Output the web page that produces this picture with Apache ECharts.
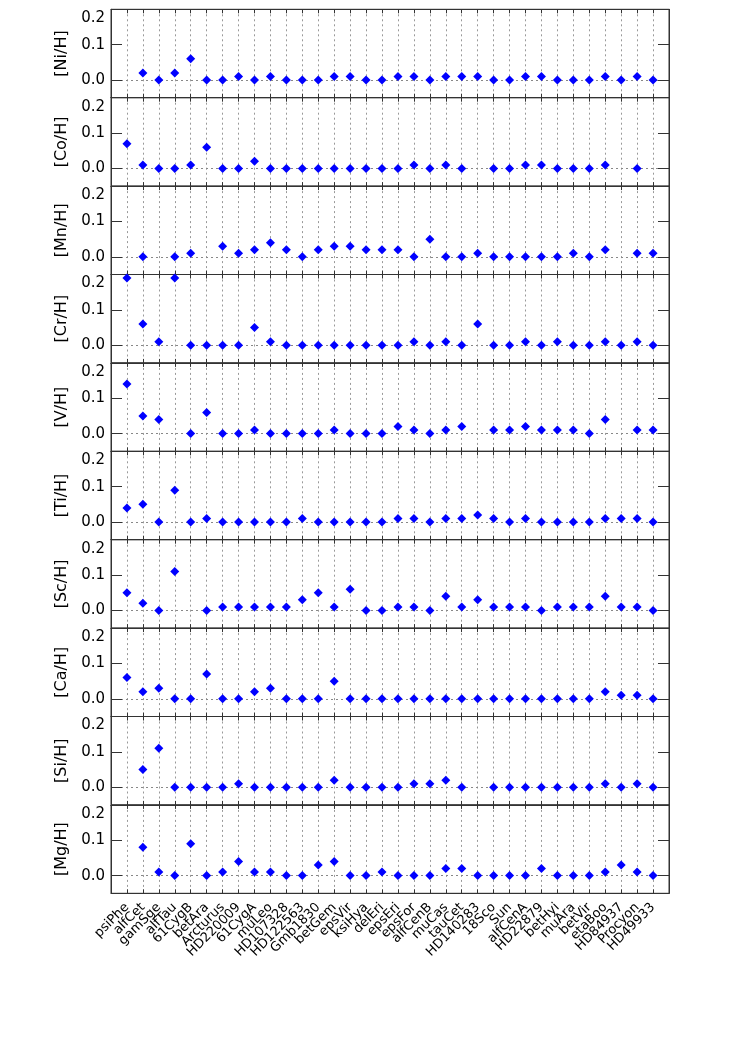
<!DOCTYPE html>
<html>
<head>
<meta charset="utf-8">
<script src="https://cdn.jsdelivr.net/npm/echarts@6/dist/echarts.min.js"></script>
<style>html,body{margin:0;padding:0;background:#fff;}#chart{width:743px;height:1052px;}</style>
</head>
<body>
<div id="chart"></div>
<script>
const categories = ['psiPhe','alfCet','gamSge','alfTau','61CygB','betAra','Arcturus','HD220009','61CygA','muLeo','HD107328','HD122563','Gmb1830','betGem','epsVir','ksiHya','delEri','epsEri','epsFor','alfCenB','muCas','tauCet','HD140283','18Sco','Sun','alfCenA','HD22879','betHyi','muAra','betVir','etaBoo','HD84937','Procyon','HD49933'];
const elements = ['Ni','Co','Mn','Cr','V','Ti','Sc','Ca','Si','Mg'];
const ni = [null,0.02,0,0.02,0.06,0,0,0.01,0,0.01,0,0,0,0.01,0.01,0,0,0.01,0.01,0,0.01,0.01,0.01,0,0,0.01,0.01,0,0,0,0.01,0,0.01,0];
const co = [0.07,0.01,0,0,0.01,0.06,0,0,0.02,0,0,0,0,0,0,0,0,0,0.01,0,0.01,0,null,0,0,0.01,0.01,0,0,0,0.01,null,0,null];
const mn = [null,0,null,0,0.01,null,0.03,0.01,0.02,0.04,0.02,0,0.02,0.03,0.03,0.02,0.02,0.02,0,0.05,0,0,0.01,0,0,0,0,0,0.01,0,0.02,null,0.01,0.01];
const cr = [0.19,0.06,0.01,0.19,0,0,0,0,0.05,0.01,0,0,0,0,0,0,0,0,0.01,0,0.01,0,0.06,0,0,0.01,0,0.01,0,0,0.01,0,0.01,0];
const v  = [0.14,0.05,0.04,null,0,0.06,0,0,0.01,0,0,0,0,0.01,0,0,0,0.02,0.01,0,0.01,0.02,null,0.01,0.01,0.02,0.01,0.01,0.01,0,0.04,null,0.01,0.01];
const ti = [0.04,0.05,0,0.09,0,0.01,0,0,0,0,0,0.01,0,0,0,0,0,0.01,0.01,0,0.01,0.01,0.02,0.01,0,0.01,0,0,0,0,0.01,0.01,0.01,0];
const sc = [0.05,0.02,0,0.11,null,0,0.01,0.01,0.01,0.01,0.01,0.03,0.05,0.01,0.06,0,0,0.01,0.01,0,0.04,0.01,0.03,0.01,0.01,0.01,0,0.01,0.01,0.01,0.04,0.01,0.01,0];
const ca = [0.06,0.02,0.03,0,0,0.07,0,0,0.02,0.03,0,0,0,0.05,0,0,0,0,0,0,0,0,0,0,0,0,0,0,0,0,0.02,0.01,0.01,0];
const si = [null,0.05,0.11,0,0,0,0,0.01,0,0,0,0,0,0.02,0,0,0,0,0.01,0.01,0.02,0,null,0,0,0,0,0,0,0,0.01,0,0.01,0];
const mg = [null,0.08,0.01,0,0.09,0,0.01,0.04,0.01,0.01,0,0,0.03,0.04,0,0,0.01,0,0,0,0.02,0.02,0,0,0,0,0.02,0,0,0,0.01,0.03,0.01,0];
const yLabelValues = [0, 0.1, 0.2];
const yTickValues = [0, 0.1];

const panels = [ni, co, mn, cr, v, ti, sc, ca, si, mg];
const FONT = 'DejaVu Sans';
const TOP0 = 9.3, H = 88.4, LEFT = 111, W = 558;
const X_MIN = -1, X_MAX = 34, TICK_UNITS = 0.69;

const tickStyle = {type: 'solid', color: '#333', width: 1};
const tickSegments = [];
yTickValues.forEach(t => {
  tickSegments.push([{coord: [X_MIN, t], lineStyle: tickStyle}, {coord: [X_MIN + TICK_UNITS, t]}]);
  tickSegments.push([{coord: [X_MAX, t], lineStyle: tickStyle}, {coord: [X_MAX - TICK_UNITS, t]}]);
});

const grid = [], xAxis = [], yAxis = [], series = [];
panels.forEach((arr, k) => {
  grid.push({left: LEFT, width: W, top: TOP0 + k * H, height: H, show: true,
    borderColor: '#333', borderWidth: 1, backgroundColor: 'transparent'});
  const last = k === panels.length - 1;
  xAxis.push({
    gridIndex: k, type: 'value', min: X_MIN, max: X_MAX, interval: 1, position: 'bottom',
    axisLine: {show: true, onZero: false, lineStyle: {color: '#333', width: 1}},
    axisTick: {show: true, inside: true, length: 4, lineStyle: {color: '#333'}},
    splitLine: {show: true, lineStyle: {type: [2, 3], color: '#999', width: 1}},
    axisLabel: {show: last, rotate: 45, margin: 12, fontSize: 13, fontFamily: FONT, color: '#000',
      formatter: val => (val >= 0 && val < categories.length) ? categories[val] : ''}
  });
  xAxis.push({
    gridIndex: k, type: 'value', min: X_MIN, max: X_MAX, interval: 1, position: 'top',
    axisLine: {show: true, onZero: false, lineStyle: {color: '#333', width: 1}},
    axisTick: {show: true, inside: true, length: 4, lineStyle: {color: '#333'}},
    splitLine: {show: false}, axisLabel: {show: false}
  });
  yAxis.push({
    gridIndex: k, type: 'value', min: -0.05, max: 0.2, position: 'left',
    name: '[' + elements[k] + '/H]', nameLocation: 'middle', nameGap: 32, nameRotate: 90,
    nameTextStyle: {fontSize: 16, fontFamily: FONT, color: '#000'},
    axisLine: {show: true, onZero: false, lineStyle: {color: '#333', width: 1}},
    axisTick: {show: true, inside: true, length: 11, customValues: yTickValues, lineStyle: {color: '#333', width: 1}},
    splitLine: {show: false},
    axisLabel: {customValues: yLabelValues, margin: 6, fontSize: 15, fontFamily: FONT, color: '#000',
      formatter: val => val > 0.15 ? '{t|' + val.toFixed(1) + '}' : val.toFixed(1),
      rich: {t: {padding: [18, 0, 0, 0], fontSize: 15, fontFamily: FONT, color: '#000'}}}
  });
  yAxis.push({
    gridIndex: k, type: 'value', min: -0.05, max: 0.2, position: 'right',
    axisLine: {show: true, onZero: false, lineStyle: {color: '#333', width: 1}},
    axisTick: {show: true, inside: true, length: 11, customValues: yTickValues, lineStyle: {color: '#333', width: 1}},
    splitLine: {show: false}, axisLabel: {show: false}
  });
  const data = [];
  arr.forEach((val, i) => { if (val !== null) data.push([i, val]); });
  series.push({
    type: 'scatter', xAxisIndex: 2 * k, yAxisIndex: 2 * k,
    symbol: 'diamond', symbolSize: 9, itemStyle: {color: '#0000ff', opacity: 1},
    data: data, silent: true, z: 5,
    markLine: {silent: true, symbol: 'none', label: {show: false},
      lineStyle: {type: [2, 3], color: '#888', width: 1},
      data: [{yAxis: 0}].concat(tickSegments)}
  });
});

const chart = echarts.init(document.getElementById('chart'), null, {renderer: 'canvas'});
chart.setOption({backgroundColor: '#fff', animation: false, grid, xAxis, yAxis, series});
</script>
</body>
</html>
